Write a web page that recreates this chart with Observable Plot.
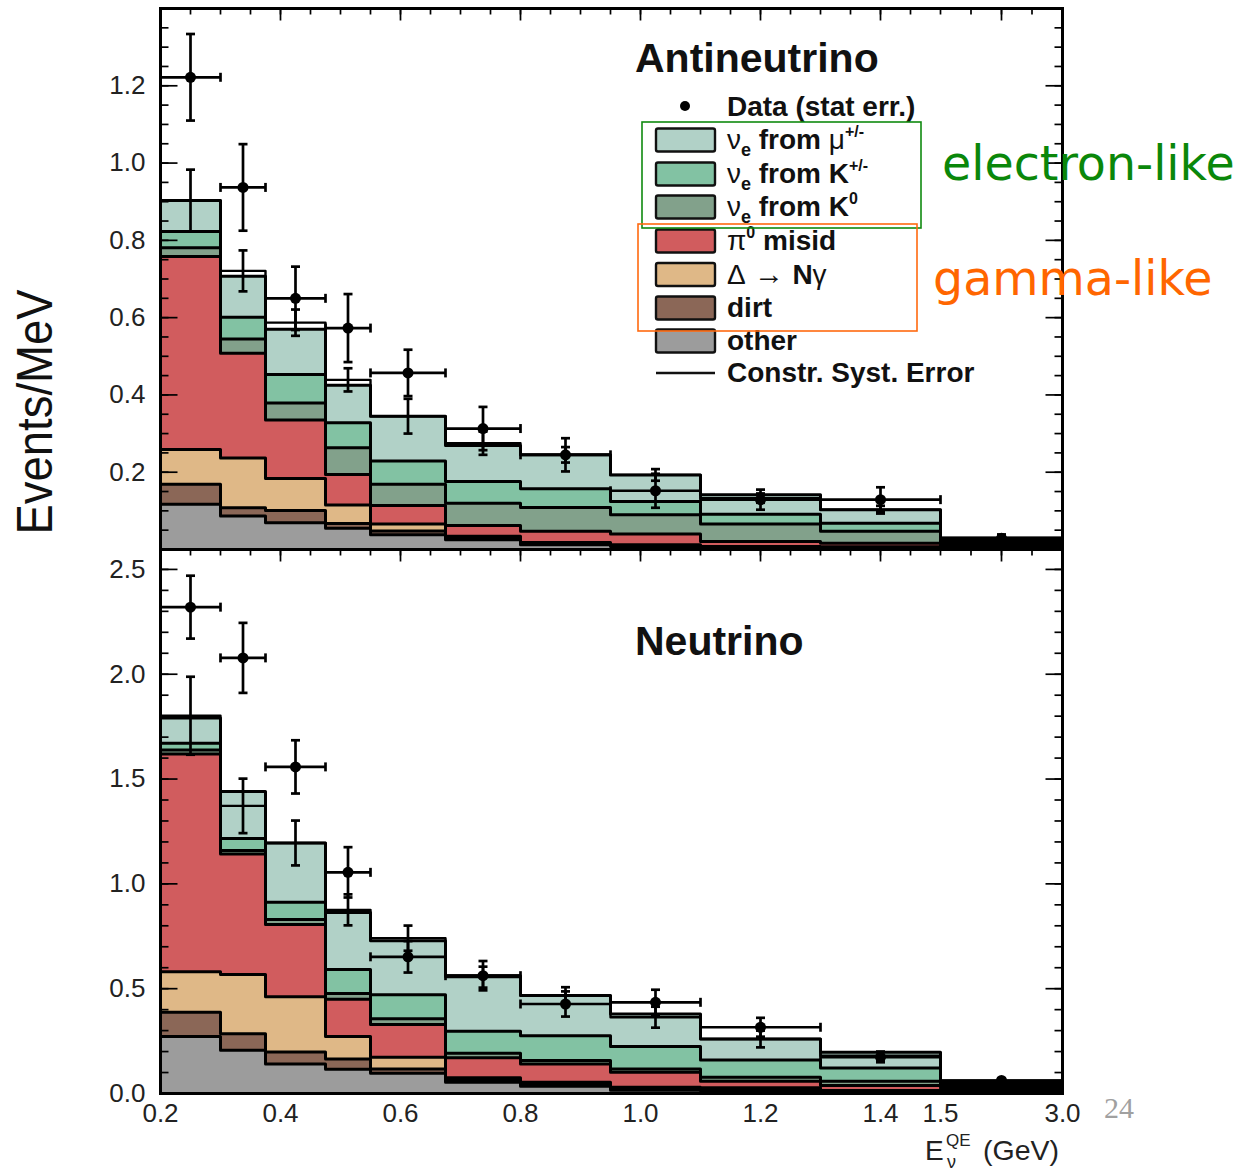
<!DOCTYPE html>
<html>
<head>
<meta charset="utf-8">
<script src="https://cdn.jsdelivr.net/npm/d3@7"></script>
<script src="https://cdn.jsdelivr.net/npm/@observablehq/plot@0.6"></script>
<style>
  body { margin: 0; background: #fff; }
  #chart { position: relative; width: 1241px; height: 1173px; overflow: hidden; background: #fff;
           font-family: "Liberation Sans", Arial, Helvetica, sans-serif; }
  #chart svg { position: absolute; left: 0; top: 0; }
</style>
</head>
<body>
<div id="chart"></div>
<script>
// Reconstructed-energy bin edges (GeV); the last bin is drawn compressed
const binEdges = [0.2, 0.3, 0.375, 0.475, 0.55, 0.675, 0.8, 0.95, 1.1, 1.3, 1.5, 3.0];

// Background components, stacked bottom to top
const componentNames = ["other", "dirt", "delta", "pi0", "nueK0", "nueKpm", "nueMu"];
const componentColors = ["#9c9c9c", "#8b6757", "#dfb887", "#d15c5e", "#82a18b", "#82c2a3", "#b1d1c7"];

// Antineutrino mode (Events/MeV)
const antiOther  = [0.117, 0.087, 0.069, 0.055, 0.038, 0.025, 0.012, 0.008, 0.004, 0.003, 0.004];
const antiDirt   = [0.052, 0.021, 0.032, 0.012, 0.010, 0.004, 0.003, 0.002, 0.002, 0.002, 0.004];
const antiDelta  = [0.090, 0.129, 0.083, 0.048, 0.018, 0.005, 0.003, 0.002, 0.002, 0.002, 0.004];
const antiPi0    = [0.499, 0.271, 0.151, 0.079, 0.048, 0.028, 0.029, 0.028, 0.013, 0.009, 0.004];
const antiNueK0  = [0.023, 0.037, 0.044, 0.069, 0.055, 0.058, 0.062, 0.050, 0.045, 0.031, 0.005];
const antiNueKpm = [0.042, 0.056, 0.074, 0.065, 0.060, 0.056, 0.048, 0.034, 0.025, 0.021, 0.005];
const antiNueMu  = [0.080, 0.106, 0.117, 0.097, 0.116, 0.093, 0.088, 0.069, 0.051, 0.035, 0.004];
const antiConstr = [0.903, 0.721, 0.587, 0.439, 0.345, 0.275, 0.245, 0.193, 0.133, 0.103, 0.030];
const antiSyst   = [0.080, 0.053, 0.034, 0.030, 0.045, 0.030, 0.020, 0.015, 0.012, 0.010, 0.003];
const antiData   = [1.222, 0.937, 0.650, 0.573, 0.457, 0.313, 0.245, 0.152, 0.129, 0.129, 0.029];
const antiStat   = [0.112, 0.112, 0.082, 0.088, 0.060, 0.056, 0.043, 0.044, 0.026, 0.032, 0.010];

// Neutrino mode (Events/MeV)
const nuOther  = [0.272, 0.206, 0.141, 0.116, 0.097, 0.054, 0.035, 0.015, 0.012, 0.006, 0.008];
const nuDirt   = [0.115, 0.079, 0.057, 0.049, 0.020, 0.013, 0.010, 0.007, 0.006, 0.004, 0.007];
const nuDelta  = [0.194, 0.283, 0.263, 0.107, 0.056, 0.008, 0.009, 0.008, 0.009, 0.004, 0.007];
const nuPi0    = [1.038, 0.574, 0.345, 0.178, 0.156, 0.095, 0.087, 0.071, 0.032, 0.024, 0.008];
const nuNueK0  = [0.019, 0.017, 0.024, 0.027, 0.027, 0.022, 0.016, 0.016, 0.019, 0.021, 0.008];
const nuNueKpm = [0.033, 0.057, 0.082, 0.115, 0.115, 0.105, 0.119, 0.107, 0.082, 0.063, 0.010];
const nuNueMu  = [0.120, 0.225, 0.283, 0.271, 0.258, 0.265, 0.191, 0.155, 0.100, 0.075, 0.012];
const nuConstr = [1.802, 1.372, 1.195, 0.876, 0.741, 0.555, 0.467, 0.364, 0.260, 0.180, 0.060];
const nuSyst   = [0.186, 0.130, 0.107, 0.074, 0.060, 0.050, 0.040, 0.050, 0.040, 0.020, 0.005];
const nuData   = [2.320, 2.078, 1.558, 1.055, 0.652, 0.562, 0.427, 0.435, 0.316, 0.173, 0.062];
const nuStat   = [0.150, 0.167, 0.127, 0.120, 0.075, 0.070, 0.060, 0.060, 0.045, 0.024, 0.010];

// Axis tick labels
const xTickLabels = [0.2, 0.4, 0.6, 0.8, 1.0, 1.2, 1.4, 1.5, 3.0];
const antiYTickLabels = [0.2, 0.4, 0.6, 0.8, 1.0, 1.2];
const nuYTickLabels = [0.0, 0.5, 1.0, 1.5, 2.0, 2.5];

// Legend entries, top to bottom (index into the component arrays)
const legendOrder = [6, 5, 4, 3, 2, 1, 0];
const legendLabels = [
  `<tspan font-weight="normal">ν</tspan><tspan font-size="18" dy="7">e</tspan><tspan dy="-7"> from </tspan><tspan font-weight="normal">μ</tspan><tspan font-size="16" dy="-12">+/-</tspan>`,
  `<tspan font-weight="normal">ν</tspan><tspan font-size="18" dy="7">e</tspan><tspan dy="-7"> from K</tspan><tspan font-size="16" dy="-12">+/-</tspan>`,
  `<tspan font-weight="normal">ν</tspan><tspan font-size="18" dy="7">e</tspan><tspan dy="-7"> from K</tspan><tspan font-size="16" dy="-12">0</tspan>`,
  `<tspan font-weight="normal">π</tspan><tspan font-size="16" dy="-12">0</tspan><tspan dy="12"> misid</tspan>`,
  `<tspan font-weight="normal">Δ</tspan><tspan font-weight="normal" font-size="30"> → </tspan><tspan>N</tspan><tspan font-weight="normal">γ</tspan>`,
  `dirt`,
  `other`
];

// Frame geometry shared by both panels
const W = 1241, H = 1173;
const xDomain = [0.2, 1.5, 3.0];
const xRange = [160, 940, 1062];

// Inward tick positions (evenly spaced along the frame)
const xMinorTicks = [...d3.range(0, 27).map(k => +(0.2 + 0.05 * k).toFixed(3)), 1.875, 2.25, 2.625];
const xMajorTicks = [0.2, 0.4, 0.6, 0.8, 1.0, 1.2, 1.4, 2.25];

function seg(x1, y1, x2, y2) {
  return {draw(ctx) { ctx.moveTo(x1, y1); ctx.lineTo(x2, y2); }};
}

function panel({layers, constr, syst, data, stat, yMax, top, bottom, yLabels, yMinor, yMajor, showX}) {
  const n = binEdges.length - 1;
  const bins = d3.range(n);
  const centers = bins.map(i => (binEdges[i] + binEdges[i + 1]) / 2);
  const cum = [];
  layers.forEach((vals, k) => cum.push(vals.map((v, i) => v + (k ? cum[k - 1][i] : 0))));
  const steps = (tops, closed) => [
    ...(closed ? [{x: binEdges[0], y: 0}] : []),
    ...bins.flatMap(i => [{x: binEdges[i], y: tops[i]}, {x: binEdges[i + 1], y: tops[i]}]),
    ...(closed ? [{x: binEdges[n], y: 0}] : [])
  ];
  const tick = {stroke: "#000", strokeWidth: 1.7, fill: "none"};
  const bar = {stroke: "#000", strokeWidth: 2.7};
  const marks = [];
  // stacked histogram: draw each cumulative sum from the tallest down
  for (let k = layers.length - 1; k >= 0; --k) {
    const pts = steps(cum[k], true);
    marks.push(Plot.areaY(pts, {x: "x", y1: 0, y2: "y", fill: componentColors[k], curve: "linear"}));
    marks.push(Plot.line(pts, {x: "x", y: "y", stroke: "#000", strokeWidth: 3, curve: "linear"}));
  }
  // constrained systematic error line and bars
  marks.push(Plot.line(steps(constr, false), {x: "x", y: "y", stroke: "#000", strokeWidth: 2.4}));
  marks.push(Plot.ruleX(bins, {x: i => centers[i], y1: i => constr[i] - syst[i], y2: i => constr[i] + syst[i], ...bar}));
  marks.push(Plot.dot(bins.flatMap(i => [[centers[i], constr[i] - syst[i]], [centers[i], constr[i] + syst[i]]]),
    {x: d => d[0], y: d => d[1], symbol: seg(-4.5, 0, 4.5, 0), ...bar, fill: "none"}));
  // data points with statistical errors
  marks.push(Plot.ruleY(bins, {y: i => data[i], x1: i => binEdges[i], x2: i => binEdges[i + 1], ...bar}));
  marks.push(Plot.ruleX(bins, {x: i => centers[i], y1: i => data[i] - stat[i], y2: i => data[i] + stat[i], ...bar}));
  marks.push(Plot.dot(bins.flatMap(i => [[centers[i], data[i] - stat[i]], [centers[i], data[i] + stat[i]]]),
    {x: d => d[0], y: d => d[1], symbol: seg(-4.5, 0, 4.5, 0), ...bar, fill: "none"}));
  marks.push(Plot.dot(bins.flatMap(i => [[binEdges[i], data[i]], [binEdges[i + 1], data[i]]]),
    {x: d => d[0], y: d => d[1], symbol: seg(0, -4.5, 0, 4.5), ...bar, fill: "none"}));
  marks.push(Plot.dot(bins, {x: i => centers[i], y: i => data[i], r: 5.5, fill: "#000", stroke: "none"}));
  // frame and inward ticks
  marks.push(Plot.frame({stroke: "#000", strokeWidth: 3}));
  marks.push(Plot.dot(yMinor, {x: 0.2, y: d => d, symbol: seg(0, 0, 8, 0), ...tick}));
  marks.push(Plot.dot(yMajor, {x: 0.2, y: d => d, symbol: seg(0, 0, 17, 0), ...tick}));
  marks.push(Plot.dot(yMinor, {x: 3.0, y: d => d, symbol: seg(0, 0, -8, 0), ...tick}));
  marks.push(Plot.dot(yMajor, {x: 3.0, y: d => d, symbol: seg(0, 0, -17, 0), ...tick}));
  marks.push(Plot.dot(xMinorTicks, {x: d => d, y: yMax, symbol: seg(0, 0, 0, 6), ...tick}));
  marks.push(Plot.dot(xMajorTicks, {x: d => d, y: yMax, symbol: seg(0, 0, 0, 12), ...tick}));
  marks.push(Plot.axisY({ticks: yLabels, tickSize: 0, tickPadding: 15, tickFormat: d3.format(".1f"), fontSize: 26, fill: "#222", label: null}));
  if (showX) {
    marks.push(Plot.axisX({ticks: xTickLabels, tickSize: 0, tickPadding: 10, tickFormat: d3.format(".1f"), fontSize: 26, fill: "#222", label: null}));
  }
  return Plot.plot({
    width: W, height: H,
    marginLeft: 160, marginRight: W - 1062, marginTop: top, marginBottom: H - bottom,
    x: {type: "linear", domain: xDomain, range: xRange, ...(showX ? {} : {axis: null})},
    y: {domain: [0, yMax], range: [bottom, top]},
    style: {background: "transparent", fontFamily: '"Liberation Sans", Arial, Helvetica, sans-serif', overflow: "visible"},
    marks
  });
}

const chart = document.getElementById("chart");

chart.append(panel({
  layers: [antiOther, antiDirt, antiDelta, antiPi0, antiNueK0, antiNueKpm, antiNueMu],
  constr: antiConstr, syst: antiSyst, data: antiData, stat: antiStat,
  yMax: 1.40, top: 8, bottom: 549,
  yLabels: antiYTickLabels,
  yMinor: d3.range(1, 28).map(k => +(0.05 * k).toFixed(3)),
  yMajor: [0.2, 0.4, 0.6, 0.8, 1.0, 1.2],
  showX: false
}));

chart.append(panel({
  layers: [nuOther, nuDirt, nuDelta, nuPi0, nuNueK0, nuNueKpm, nuNueMu],
  constr: nuConstr, syst: nuSyst, data: nuData, stat: nuStat,
  yMax: 2.595, top: 549, bottom: 1093,
  yLabels: nuYTickLabels,
  yMinor: d3.range(1, 26).map(k => +(0.1 * k).toFixed(2)),
  yMajor: [0.5, 1.0, 1.5, 2.0, 2.5],
  showX: true
}));

// Titles, legend, group boxes and axis titles
const rowY = [140, 174, 207, 241, 274.5, 308, 341];
let legend = "";
legendOrder.forEach((k, r) => {
  legend += `<rect x="656" y="${rowY[r] - 11.5}" width="59" height="23" rx="2" fill="${componentColors[k]}" stroke="#111" stroke-width="2.4"/>`;
  legend += `<text x="727" y="${rowY[r] + 9}" font-size="28" font-weight="bold" fill="#111">${legendLabels[r]}</text>`;
});

const overlay = `
<svg xmlns="http://www.w3.org/2000/svg" width="${W}" height="${H}" font-family="'Liberation Sans', Arial, Helvetica, sans-serif">
  <text x="635" y="72" font-size="41" font-weight="bold" fill="#111">Antineutrino</text>
  <text x="635" y="655" font-size="41" font-weight="bold" fill="#111">Neutrino</text>
  <circle cx="685" cy="106" r="5" fill="#000"/>
  <text x="727" y="116" font-size="28" font-weight="bold" fill="#111">Data (stat err.)</text>
  ${legend}
  <line x1="656" x2="715" y1="373" y2="373" stroke="#111" stroke-width="2.4"/>
  <text x="727" y="382" font-size="28" font-weight="bold" fill="#111">Constr. Syst. Error</text>
  <rect x="642" y="122" width="279" height="106" fill="none" stroke="#108a10" stroke-width="1.6"/>
  <rect x="638" y="224" width="279" height="107" fill="none" stroke="#ff6a10" stroke-width="1.6"/>
  <text x="942" y="180" font-family="'DejaVu Sans', sans-serif" font-size="47.5" fill="#0a870a">electron-like</text>
  <text x="933" y="295" font-family="'DejaVu Sans', sans-serif" font-size="47.5" fill="#ff6600">gamma-like</text>
  <text transform="translate(52,412) rotate(-90)" text-anchor="middle" font-size="50" textLength="245" lengthAdjust="spacingAndGlyphs" fill="#111">Events/MeV</text>
  <text x="925" y="1160" font-size="28" fill="#222">E</text>
  <text x="946" y="1146" font-size="17" fill="#222">QE</text>
  <text x="947" y="1168" font-size="18" fill="#222">ν</text>
  <text x="983" y="1160" font-size="28.5" fill="#222">(GeV)</text>
  <text x="1104" y="1118" font-family="'Liberation Serif', 'DejaVu Serif', serif" font-size="30" fill="#a0a0a0">24</text>
</svg>`;
chart.insertAdjacentHTML("beforeend", overlay);
</script>
</body>
</html>
